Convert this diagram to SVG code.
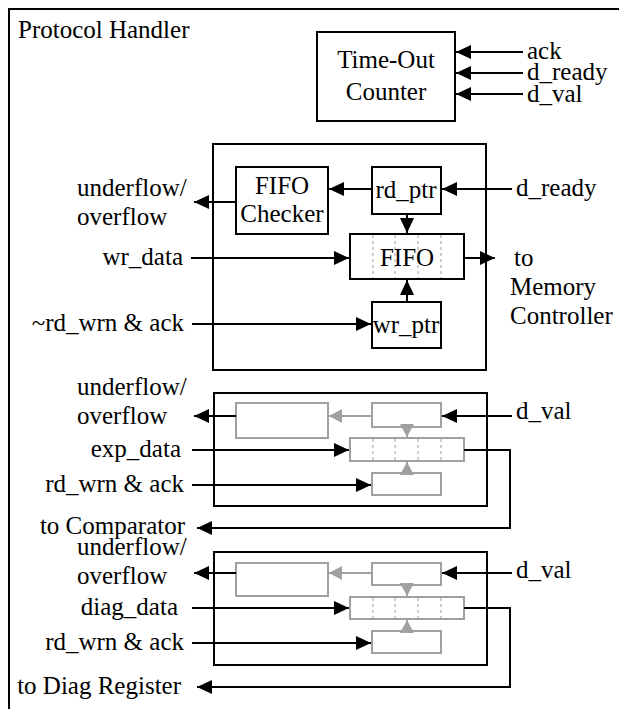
<svg xmlns="http://www.w3.org/2000/svg" width="619" height="709" viewBox="0 0 619 709">
<style>
text{font-family:"Liberation Serif",Tinos,"Times New Roman","DejaVu Serif","Noto Serif",serif;font-size:25px;fill:#000}
.e{text-anchor:end}
.m{text-anchor:middle}
.bx{fill:#fff;stroke:#000;stroke-width:2}
.gb{fill:#fff;stroke:#a0a0a0;stroke-width:2}
.ln{fill:none;stroke:#000;stroke-width:2}
.gl{fill:none;stroke:#a0a0a0;stroke-width:2}
.ds{stroke:#a0a0a0;stroke-width:1;stroke-dasharray:3,3}
</style>
<defs>
<marker id="ah" markerUnits="userSpaceOnUse" markerWidth="16" markerHeight="14" refX="15" refY="7" orient="auto">
<path d="M0,0 L15,7 L0,14 Z" fill="#000"/>
</marker>
<marker id="gh" markerUnits="userSpaceOnUse" markerWidth="14" markerHeight="14" refX="13" refY="7" orient="auto">
<path d="M0,0 L13,7 L0,14 Z" fill="#a0a0a0"/>
</marker>
</defs>

<g id="frame">
<path d="M9,709 V9 H619" fill="none" stroke="#000" stroke-width="2"/>
<text x="18" y="38" font-family="Liberation Serif, serif">Protocol Handler</text>
</g>

<g id="timeout">
<rect class="bx" x="317" y="32" width="138" height="89"/>
<text class="m" x="386" y="68">Time-Out</text>
<text class="m" x="386" y="100">Counter</text>
</g>
<g id="timeout-labels">
<text x="527" y="59">ack</text>
<text x="527" y="80">d_ready</text>
<text x="527" y="102">d_val</text>
</g>

<g id="block1">
<rect class="bx" x="213" y="144" width="273" height="226"/>
</g>
<g id="checker1">
<rect class="bx" x="236" y="167" width="92" height="67"/>
<text class="m" x="282" y="194">FIFO</text>
<text class="m" x="282" y="222">Checker</text>
</g>
<g id="rdptr1">
<rect class="bx" x="372" y="167" width="69" height="47"/>
<text class="m" x="406" y="198">rd_ptr</text>
</g>
<g id="fifo1">
<rect class="bx" x="350" y="234" width="114" height="45"/>
<line class="ds" x1="373" y1="235" x2="373" y2="278"/>
<line class="ds" x1="395" y1="235" x2="395" y2="278"/>
<line class="ds" x1="418" y1="235" x2="418" y2="278"/>
<line class="ds" x1="441" y1="235" x2="441" y2="278"/>
<text class="m" x="407" y="266">FIFO</text>
</g>
<g id="wrptr1">
<rect class="bx" x="372" y="302" width="69" height="46"/>
<text class="m" x="406" y="333">wr_ptr</text>
</g>
<g id="block1-labels">
<text x="77" y="196">underflow/</text>
<text x="77" y="225">overflow</text>
<text class="e" x="183" y="265">wr_data</text>
<text class="e" x="184" y="331">~rd_wrn &amp; ack</text>
<text x="516" y="196">d_ready</text>
<text x="514" y="266">to</text>
<text x="510" y="295">Memory</text>
<text x="510" y="324">Controller</text>
</g>

<g id="block2">
<rect class="bx" x="214" y="393" width="273" height="113"/>
<rect class="gb" x="236" y="403" width="92" height="35"/>
<rect class="gb" x="372" y="403" width="69" height="24"/>
<rect class="gb" x="350" y="438" width="114" height="23"/>
<line class="ds" x1="373" y1="439" x2="373" y2="460"/>
<line class="ds" x1="395" y1="439" x2="395" y2="460"/>
<line class="ds" x1="418" y1="439" x2="418" y2="460"/>
<line class="ds" x1="441" y1="439" x2="441" y2="460"/>
<rect class="gb" x="372" y="473" width="69" height="22"/>
</g>
<g id="block2-labels">
<text x="77" y="395">underflow/</text>
<text x="77" y="424">overflow</text>
<text class="e" x="181" y="457">exp_data</text>
<text class="e" x="184" y="492">rd_wrn &amp; ack</text>
<text class="e" x="185" y="534">to Comparator</text>
<text x="516" y="419">d_val</text>
</g>

<g id="block3">
<rect class="bx" x="214" y="552" width="273" height="113"/>
<rect class="gb" x="236" y="563" width="92" height="33"/>
<rect class="gb" x="372" y="563" width="69" height="22"/>
<rect class="gb" x="350" y="597" width="114" height="22"/>
<line class="ds" x1="373" y1="598" x2="373" y2="618"/>
<line class="ds" x1="395" y1="598" x2="395" y2="618"/>
<line class="ds" x1="418" y1="598" x2="418" y2="618"/>
<line class="ds" x1="441" y1="598" x2="441" y2="618"/>
<rect class="gb" x="372" y="631" width="69" height="22"/>
</g>
<g id="block3-labels">
<text x="77" y="555">underflow/</text>
<text x="77" y="584">overflow</text>
<text class="e" x="178" y="615">diag_data</text>
<text class="e" x="184" y="650">rd_wrn &amp; ack</text>
<text class="e" x="181" y="694">to Diag Register</text>
<text x="516" y="578">d_val</text>
</g>

<g id="connectors">
<line class="ln" x1="523" y1="52" x2="456" y2="52" marker-end="url(#ah)"/>
<line class="ln" x1="523" y1="73" x2="456" y2="73" marker-end="url(#ah)"/>
<line class="ln" x1="523" y1="94" x2="456" y2="94" marker-end="url(#ah)"/>

<line class="ln" x1="512" y1="189" x2="442" y2="189" marker-end="url(#ah)"/>
<line class="ln" x1="372" y1="189" x2="329" y2="189" marker-end="url(#ah)"/>
<line class="ln" x1="236" y1="202" x2="194" y2="202" marker-end="url(#ah)"/>
<line class="ln" x1="407" y1="214" x2="407" y2="233" marker-end="url(#ah)"/>
<line class="ln" x1="191" y1="258" x2="349" y2="258" marker-end="url(#ah)"/>
<line class="ln" x1="464" y1="258" x2="495" y2="258" marker-end="url(#ah)"/>
<line class="ln" x1="407" y1="302" x2="407" y2="280" marker-end="url(#ah)"/>
<line class="ln" x1="192" y1="324" x2="371" y2="324" marker-end="url(#ah)"/>

<line class="ln" x1="512" y1="416" x2="442" y2="416" marker-end="url(#ah)"/>
<line class="gl" x1="372" y1="416" x2="329" y2="416" marker-end="url(#gh)"/>
<line class="ln" x1="236" y1="416" x2="194" y2="416" marker-end="url(#ah)"/>
<line class="gl" x1="407" y1="426" x2="407" y2="437" marker-end="url(#gh)"/>
<line class="ln" x1="192" y1="450" x2="349" y2="450" marker-end="url(#ah)"/>
<line class="gl" x1="407" y1="473" x2="407" y2="462" marker-end="url(#gh)"/>
<line class="ln" x1="192" y1="485" x2="371" y2="485" marker-end="url(#ah)"/>
<polyline class="ln" points="464,450 510,450 510,528 197,528" marker-end="url(#ah)"/>

<line class="ln" x1="512" y1="573" x2="442" y2="573" marker-end="url(#ah)"/>
<line class="gl" x1="372" y1="573" x2="329" y2="573" marker-end="url(#gh)"/>
<line class="ln" x1="236" y1="573" x2="194" y2="573" marker-end="url(#ah)"/>
<line class="gl" x1="407" y1="585" x2="407" y2="596" marker-end="url(#gh)"/>
<line class="ln" x1="192" y1="608" x2="349" y2="608" marker-end="url(#ah)"/>
<line class="gl" x1="407" y1="631" x2="407" y2="620" marker-end="url(#gh)"/>
<line class="ln" x1="192" y1="643" x2="371" y2="643" marker-end="url(#ah)"/>
<polyline class="ln" points="464,608 510,608 510,687 197,687" marker-end="url(#ah)"/>
</g>
</svg>
